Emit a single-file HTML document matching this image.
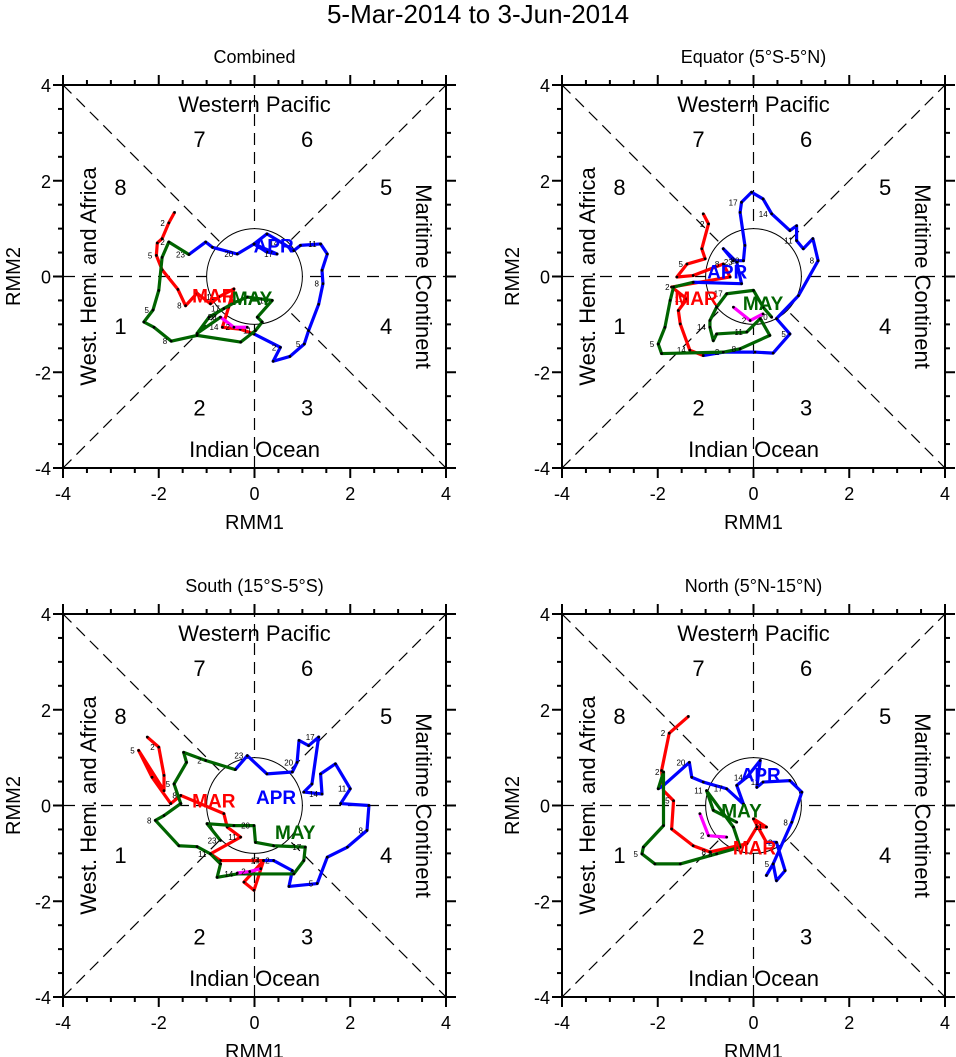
<!DOCTYPE html>
<html><head><meta charset="utf-8">
<style>
html,body{margin:0;padding:0;background:#fff;}
svg{display:block;font-family:"Liberation Sans",Arial,sans-serif;}
</style></head>
<body>
<svg id="chart" width="956" height="1057" viewBox="0 0 956 1057" xmlns="http://www.w3.org/2000/svg">
<text x="478" y="23" font-size="26" text-anchor="middle">5-Mar-2014 to 3-Jun-2014</text>
</svg>
<script>
// ---------- data (RMM1, RMM2) per month, per panel ----------
const panelTitles = ["Combined", "Equator (5°S-5°N)", "South (15°S-5°S)", "North (5°N-15°N)"];
const monthNames = ["MAR", "APR", "MAY", "JUN"];
const monthColors = ["#ff0000", "#0000ff", "#006400", "#ff00ff"];

// Combined
const combMarX = [-1.67,-1.79,-1.93,-2.03,-2.05,-1.93,-1.60,-1.44,-1.20,-0.92,-0.75,-0.43,-0.54,-0.67,-0.30,-0.01];
const combMarY = [1.34,1.12,0.79,0.70,0.44,0.14,-0.27,-0.61,-0.35,-0.57,-0.43,-0.26,-0.64,-1.06,-1.10,-1.20];
const combAprX = [-0.01,0.54,0.39,0.74,1.04,1.13,1.34,1.43,1.41,1.52,1.38,0.96,0.82,0.58,0.26,-0.01,0.47,0.26,-0.01,-0.36,-0.88,-1.02,-1.37];
const combAprY = [-1.20,-1.48,-1.77,-1.67,-1.41,-1.13,-0.58,-0.15,0.13,0.47,0.68,0.65,0.54,0.70,0.89,0.68,0.47,0.51,0.68,0.47,0.61,0.72,0.46];
const combMayX = [-1.37,-1.79,-1.93,-2.00,-2.12,-2.31,-2.10,-1.74,-1.20,-0.29,0.02,0.16,0.06,0.37,-0.15,-0.43,-0.64,-0.95,-1.20,-0.71];
const combMayY = [0.46,0.72,0.40,-0.29,-0.70,-0.95,-1.06,-1.35,-1.23,-1.37,-1.13,-0.95,-0.85,-0.50,-0.43,-0.55,-0.67,-0.85,-1.19,-0.85];
const combJunX = [-0.71,-0.43,-0.15];
const combJunY = [-0.85,-1.06,-1.06];

// Equator
const eqMarX = [-1.05,-0.94,-1.08,-1.01,-1.39,-1.60,-1.26,-0.63,-0.49,-1.71,-1.39,-1.57,-1.53,-1.33,-1.05];
const eqMarY = [1.31,1.10,0.58,0.37,0.26,-0.01,0.02,0.26,-0.01,-0.22,-0.47,-0.71,-0.99,-1.54,-1.65];
const eqAprX = [-1.05,-0.63,0.03,0.41,0.76,0.48,0.94,1.35,1.24,1.04,0.90,0.90,0.76,0.38,0.20,-0.04,-0.25,-0.28,-0.18,-0.21,-0.42,-0.63,-0.35,-0.25,-1.26];
const eqAprY = [-1.65,-1.58,-1.58,-1.60,-1.20,-0.88,-0.40,0.33,0.79,0.58,0.75,1.06,0.96,1.31,1.62,1.76,1.55,1.34,0.65,0.33,0.33,0.58,0.30,-0.15,-0.12];
const eqMayX = [-1.26,-1.67,-1.74,-1.85,-1.99,-1.92,-0.63,-0.28,0.34,0.14,-0.14,-0.77,-0.84,-0.91,-0.91,-0.77,-0.56,0.00,0.20,0.38];
const eqMayY = [-0.12,-0.22,-0.50,-1.06,-1.41,-1.61,-1.58,-1.51,-1.23,-0.88,-1.16,-1.20,-1.34,-1.06,-0.92,-0.64,-0.36,-0.29,-0.64,-0.85];
const eqJunX = [-0.42,-0.07,0.20];
const eqJunY = [-0.64,-0.92,-0.78];

// South
const soMarX = [-2.24,-2.00,-1.89,-1.89,-2.42,-2.14,-1.75,-1.54,-0.64,-0.57,-0.29,-0.92,-0.71,0.19,-0.01,-0.22,0.19];
const soMarY = [1.43,1.22,0.63,0.31,1.15,0.59,0.04,0.21,-0.17,-0.45,-0.66,-1.01,-1.15,-1.15,-1.77,-1.60,-1.15];
const soAprX = [0.19,0.40,0.79,0.72,1.31,1.52,1.94,2.35,2.39,1.80,2.00,1.69,1.38,1.41,1.03,1.20,1.34,1.13,0.93,0.89,0.79,0.26,-0.15,-0.40];
const soAprY = [-1.15,-1.15,-1.36,-1.69,-1.63,-1.08,-0.87,-0.52,0.00,0.04,0.35,0.87,0.66,0.24,0.28,0.45,1.43,1.25,1.36,0.90,0.70,0.66,1.04,0.75];
const soMayX = [-0.40,-1.02,-1.48,-1.42,-1.68,-1.54,-1.89,-2.07,-1.58,-1.20,-0.92,-0.71,-0.78,-0.36,0.82,1.03,1.06,0.40,0.02,-0.01,-0.43,-0.99,-0.71];
const soMayY = [0.75,0.94,1.11,0.90,0.45,0.04,-0.21,-0.31,-0.84,-0.86,-1.01,-1.22,-1.50,-1.43,-1.43,-1.15,-0.87,-0.84,-0.77,-0.42,-0.42,-0.38,-0.73];
const soJunX = [-0.36,-0.10,0.13];
const soJunY = [-1.41,-1.38,-1.32];

// North
const noMarX = [-1.36,-1.76,-1.92,-1.88,-1.67,-1.71,-1.26,-0.91,-0.14,0.07,0.27,0.00,0.27];
const noMarY = [1.86,1.51,0.73,0.31,0.10,-0.49,-0.84,-0.97,-0.80,-0.45,-0.45,-0.28,-0.77];
const noAprX = [0.27,0.48,0.66,0.48,0.41,0.27,0.41,0.80,1.01,0.76,0.20,0.07,0.14,-0.14,-0.35,-0.21,-0.56,-1.05,-1.29,-1.34,-1.88,-1.99];
const noAprY = [-0.77,-0.77,-1.36,-1.57,-1.22,-1.46,-1.22,-0.35,0.28,0.52,0.49,0.38,0.94,0.59,0.42,0.03,0.35,0.49,0.59,0.90,0.42,0.35];
const noMayX = [-1.99,-1.88,-1.88,-2.30,-2.33,-2.06,-1.53,-0.77,-0.28,-0.42,-0.98,-0.84,-0.35];
const noMayY = [0.35,0.70,-0.42,-0.87,-1.01,-1.22,-1.22,-1.01,-0.87,-0.45,0.31,-0.10,-0.35];
const noJunX = [-1.12,-0.94,-0.56];
const noJunY = [-0.17,-0.63,-0.66];

const panelSeries = [
  [[combMarX,combMarY],[combAprX,combAprY],[combMayX,combMayY],[combJunX,combJunY]],
  [[eqMarX,eqMarY],[eqAprX,eqAprY],[eqMayX,eqMayY],[eqJunX,eqJunY]],
  [[soMarX,soMarY],[soAprX,soAprY],[soMayX,soMayY],[soJunX,soJunY]],
  [[noMarX,noMarY],[noAprX,noAprY],[noMayX,noMayY],[noJunX,noJunY]]
];
// month label anchor positions in data units (MAR, APR, MAY)
const labelPosX = [[-0.85,0.40,-0.05],[-1.20,-0.55,0.20],[-0.85,0.45,0.85],[0.02,0.15,-0.25]];
const labelPosY = [[-0.40,0.65,-0.45],[-0.45,0.10,-0.55],[0.10,0.18,-0.55],[-0.88,0.65,-0.10]];
const axisTicks = [-4,-2,0,2,4];
const dayLabels = ["5","10","15","20","25","30"];

// ---------- drawing ----------
const svg = document.getElementById('chart');
const NS = 'http://www.w3.org/2000/svg';
const boxes = [{x0:63,y0:85},{x0:562,y0:85},{x0:63,y0:614},{x0:562,y0:614}];
const W = 383;
function mk(tag, attrs, parent){
  const e = document.createElementNS(NS, tag);
  for (const k in attrs) e.setAttribute(k, attrs[k]);
  (parent||svg).appendChild(e);
  return e;
}
boxes.forEach((b, p) => {
  const g = mk('g', {});
  
  
  const sx = v => b.x0 + (v + 4) / 8 * W;
  const sy = v => b.y0 + (4 - v) / 8 * W;
  const cx = sx(0), cy = sy(0);
  // title
  const t = mk('text', {x: cx, y: b.y0 - 22, 'font-size': 18, 'text-anchor': 'middle'}, g);
  t.textContent = panelTitles[p];
  
  
  // dashed guides
  const dash = {stroke: '#000', 'stroke-width': 1.2, 'stroke-dasharray': '12,7', fill: 'none'};
  const guides = [[sx(-4),sy(-4),sx(4),sy(4)],[sx(-4),sy(4),sx(4),sy(-4)],[sx(-4),cy,sx(4),cy],[cx,sy(-4),cx,sy(4)]];
  guides.forEach(l => {
    const ln = mk('line', Object.assign({x1:l[0],y1:l[1],x2:l[2],y2:l[3]}, dash), g);
    
    
  });
  // unit circle (white fill hides guides)
  const c = mk('circle', {cx: cx, cy: cy, r: W/8, fill: '#fff', stroke: '#000', 'stroke-width': 1}, g);
  
  
  // frame
  const fr = mk('rect', {x: b.x0, y: b.y0, width: W, height: W, fill: 'none', stroke: '#000', 'stroke-width': 2}, g);
  
  
  // ticks
  for (let v = -4; v <= 4.001; v += 0.5) {
    const major = Math.abs(v % 2) < 1e-6;
    const L = major ? 10 : 5;
    const X = sx(v), Y = sy(v);
    [[X,b.y0+W,X,b.y0+W+L],[X,b.y0,X,b.y0-L],[b.x0,Y,b.x0-L,Y],[b.x0+W,Y,b.x0+W+L,Y]].forEach(l => {
      mk('line', {x1:l[0],y1:l[1],x2:l[2],y2:l[3],stroke:'#000','stroke-width':2}, g);
    });
  }
  axisTicks.forEach(v => {
    const tx = mk('text', {x: sx(v), y: b.y0 + W + 32, 'font-size': 18, 'text-anchor': 'middle'}, g);
    tx.textContent = v < 0 ? '-' + Math.abs(v) : String(v);
    
    
    const ty = mk('text', {x: b.x0 - 12, y: sy(v) + 7, 'font-size': 18, 'text-anchor': 'end'}, g);
    ty.textContent = v < 0 ? '-' + Math.abs(v) : String(v);
    
    
  });
  const xl = mk('text', {x: cx, y: b.y0 + W + 61, 'font-size': 20, 'text-anchor': 'middle'}, g);
  xl.textContent = 'RMM1';
  
  
  const yl = mk('text', {x: 0, y: 0, 'font-size': 20, 'text-anchor': 'middle', transform: `translate(${b.x0 - 43},${cy}) rotate(-90)`}, g);
  yl.textContent = 'RMM2';
  
  
  // region labels
  const regions = [
    ['Western Pacific', cx, b.y0 + 27, 0],
    ['Indian Ocean', cx, b.y0 + W - 11, 0],
  ];
  regions.forEach(r => {
    const e = mk('text', {x: r[1], y: r[2], 'font-size': 22, 'text-anchor': 'middle'}, g);
    e.textContent = r[0];
    
    
  });
  const wl = mk('text', {x:0,y:0,'font-size':22,'text-anchor':'middle',transform:`translate(${b.x0+33},${cy}) rotate(-90)`}, g);
  wl.textContent = 'West. Hem. and Africa';
  
  
  const ml = mk('text', {x:0,y:0,'font-size':22,'text-anchor':'middle',transform:`translate(${b.x0+W-30},${cy}) rotate(90)`}, g);
  ml.textContent = 'Maritime Continent';
  
  
  // phase numbers
  const ph = [['7',-1.15,2.7],['6',1.1,2.7],['8',-2.8,1.7],['5',2.75,1.7],['1',-2.8,-1.2],['4',2.75,-1.2],['2',-1.15,-2.9],['3',1.1,-2.9]];
  ph.forEach(q => {
    const e = mk('text', {x: sx(q[1]), y: sy(q[2]), 'font-size': 22, 'text-anchor': 'middle'}, g);
    e.textContent = q[0];
    
    
  });
  // series
  panelSeries[p].forEach((s, m) => {
    const pts = s[0].map((x, i) => sx(x) + ',' + sy(s[1][i])).join(' ');
    const pl = mk('polyline', {points: pts, fill: 'none', stroke: monthColors[m], 'stroke-width': 3.2, 'stroke-linejoin': 'round'}, g);
    
    
    s[0].forEach((x, i) => {
      const d = mk('circle', {cx: sx(x), cy: sy(s[1][i]), r: 1.4, fill: '#000'}, g);
      
      
      if (i % 3 === 1) {
        const dl = mk('text', {x: sx(x) - 4, y: sy(s[1][i]) + 3, 'font-size': 8, 'text-anchor': 'end'}, g);
        dl.textContent = String(i + 1);
        
        
      }
    });
  });
  for (let m = 0; m < 3; m++) {
    const e = mk('text', {x: sx(labelPosX[p][m]), y: sy(labelPosY[p][m]) + 7, 'font-size': 19, 'font-weight': 'bold', fill: monthColors[m], 'text-anchor': 'middle'}, g);
    e.textContent = monthNames[m];
    
    
  }
});
</script>
</body></html>
